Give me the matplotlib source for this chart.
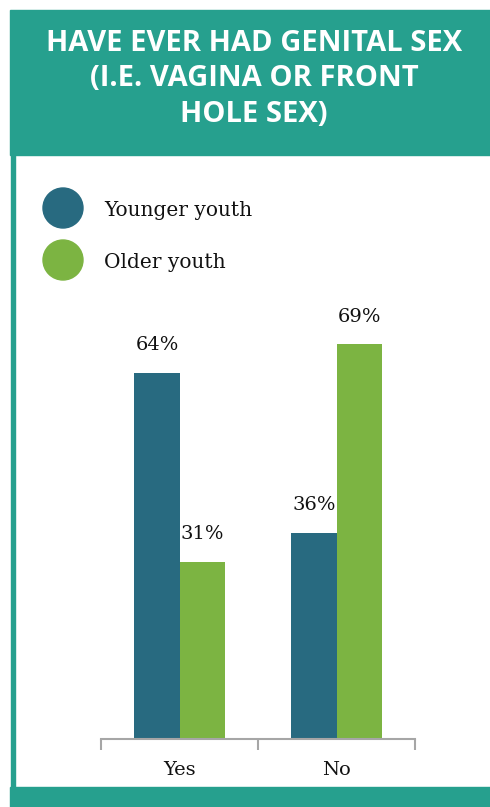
import matplotlib.pyplot as plt
from matplotlib.patches import Rectangle, Circle
import numpy as np

categories = ["Yes", "No"]
series_names = ["Younger youth", "Older youth"]
younger = [64, 36]
older = [31, 69]

TEAL = "#26a08e"
BLUE = "#286a80"
GREEN = "#7cb442"
W, H = 490, 807


def fx(px):
    return px / W


def fy(py):
    return 1 - py / H


fig = plt.figure(figsize=(4.9, 8.07), dpi=100)

# header and frame
fig.patches.append(Rectangle((fx(10), fy(155)), fx(480), 145 / H, color=TEAL,
                             transform=fig.transFigure, zorder=0))
fig.patches.append(Rectangle((fx(11), fy(788)), fx(4), 633 / H, color=TEAL,
                             transform=fig.transFigure, zorder=0))
fig.patches.append(Rectangle((fx(10), 0), fx(480), 20 / H, color=TEAL,
                             transform=fig.transFigure, zorder=0))

fig.text(fx(254), fy(79), "HAVE EVER HAD GENITAL SEX\n(I.E. VAGINA OR FRONT\nHOLE SEX)",
         ha="center", va="center", color="white", fontsize=21, fontweight="bold",
         family="Open Sans", linespacing=1.3)

# legend
leg_ax = fig.add_axes([0, 0, 1, 1], zorder=1)
leg_ax.set_xlim(0, W)
leg_ax.set_ylim(H, 0)
leg_ax.axis("off")
for i, (name, col) in enumerate(zip(series_names, [BLUE, GREEN])):
    cy = 208 + 52 * i
    leg_ax.add_patch(Circle((63, cy), 20, color=col))
    leg_ax.text(104, cy + 2, name, ha="left", va="center", fontsize=14.5,
                family="DejaVu Serif", color="#111111")

# bars
ax = fig.add_axes([fx(101), fy(739), fx(314), (739 - 310) / H], zorder=2)
ax.patch.set_alpha(0)
x = np.arange(len(categories))
bw = 0.287
b1 = ax.bar(x - bw / 2, younger, bw, color=BLUE)
b2 = ax.bar(x + bw / 2, older, bw, color=GREEN)
for bars in (b1, b2):
    for b in bars:
        ax.annotate(f"{b.get_height():.0f}%", (b.get_x() + b.get_width() / 2, b.get_height()),
                    xytext=(0, 20), textcoords="offset points", ha="center", va="center",
                    fontsize=14, family="DejaVu Serif", color="#111111")

ax.set_xlim(-0.5, 1.5)
ax.set_ylim(0, 75)
ax.set_yticks([])
ax.set_xticks([-0.5, 0.5, 1.5])
ax.set_xticklabels([])
ax.set_xticks(x, minor=True)
ax.set_xticklabels(categories, minor=True, fontsize=14, family="DejaVu Serif", color="#111111")
ax.tick_params(axis="x", which="major", length=8, width=1.5, color="#a6a6a6", direction="out")
ax.tick_params(axis="x", which="minor", length=0, pad=16)
for s in ["top", "right", "left"]:
    ax.spines[s].set_visible(False)
ax.spines["bottom"].set_color("#a6a6a6")
ax.spines["bottom"].set_linewidth(1.5)

fig.savefig("out.png", dpi=100)
